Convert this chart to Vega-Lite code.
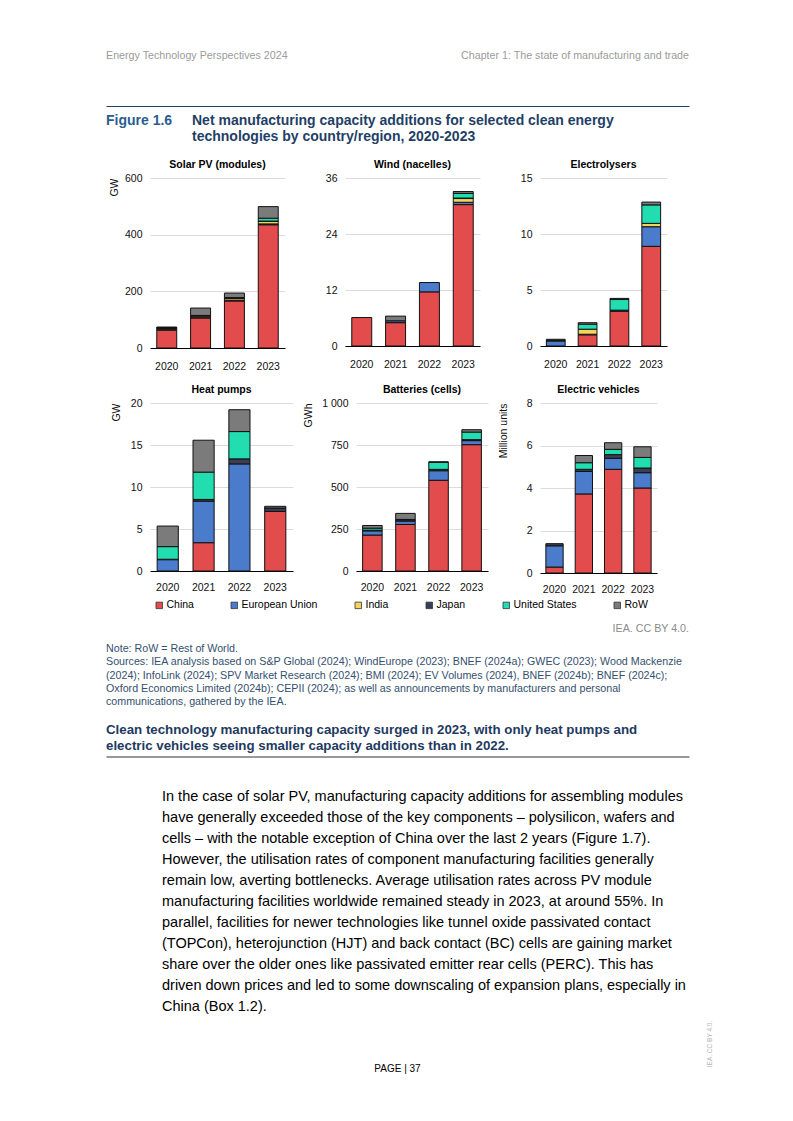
{
  "$schema": "https://vega.github.io/schema/vega-lite/v6.json",
  "padding": {"left": 106, "top": 44, "right": 0, "bottom": 0},
  "background": "#ffffff",
  "spacing": 0,
  "resolve": {"scale": {"color": "independent"}, "legend": {"color": "independent"}},
  "config": {
    "font": "Liberation Sans",
    "view": {"stroke": null},
    "title": {"font": "Liberation Sans", "fontSize": 10.5, "fontWeight": "bold", "color": "#000000", "offset": 3, "anchor": "middle"},
    "axis": {"labelFont": "Liberation Sans", "titleFont": "Liberation Sans", "labelColor": "#111111", "titleColor": "#111111"},
    "axisY": {"domain": false, "ticks": false, "gridColor": "#dcdcdc", "gridWidth": 1, "labelFontSize": 10.5, "labelPadding": 8, "titleFontSize": 10.5, "titleFontWeight": "normal", "titleAnchor": "end"},
    "axisX": {"domainColor": "#000000", "domainWidth": 1, "ticks": false, "labelAngle": 0, "labelPadding": 13, "labelFontSize": 10.5, "grid": false},
    "text": {"font": "Liberation Sans"}
  },
  "datasets": {
    "capacity": [
      {"tech": "solar", "year": "2020", "region": "China", "value": 63},
      {"tech": "solar", "year": "2020", "region": "European Union", "value": 3},
      {"tech": "solar", "year": "2020", "region": "India", "value": 4},
      {"tech": "solar", "year": "2020", "region": "Japan", "value": 1},
      {"tech": "solar", "year": "2020", "region": "United States", "value": 1},
      {"tech": "solar", "year": "2020", "region": "RoW", "value": 2},
      {"tech": "solar", "year": "2021", "region": "China", "value": 106},
      {"tech": "solar", "year": "2021", "region": "European Union", "value": 3},
      {"tech": "solar", "year": "2021", "region": "India", "value": 4},
      {"tech": "solar", "year": "2021", "region": "Japan", "value": 1},
      {"tech": "solar", "year": "2021", "region": "United States", "value": 1},
      {"tech": "solar", "year": "2021", "region": "RoW", "value": 26},
      {"tech": "solar", "year": "2022", "region": "China", "value": 166},
      {"tech": "solar", "year": "2022", "region": "European Union", "value": 3},
      {"tech": "solar", "year": "2022", "region": "India", "value": 6},
      {"tech": "solar", "year": "2022", "region": "Japan", "value": 1},
      {"tech": "solar", "year": "2022", "region": "United States", "value": 2},
      {"tech": "solar", "year": "2022", "region": "RoW", "value": 16},
      {"tech": "solar", "year": "2023", "region": "China", "value": 435},
      {"tech": "solar", "year": "2023", "region": "European Union", "value": 3},
      {"tech": "solar", "year": "2023", "region": "India", "value": 9},
      {"tech": "solar", "year": "2023", "region": "Japan", "value": 1},
      {"tech": "solar", "year": "2023", "region": "United States", "value": 10},
      {"tech": "solar", "year": "2023", "region": "RoW", "value": 41},
      {"tech": "wind", "year": "2020", "region": "China", "value": 6.1},
      {"tech": "wind", "year": "2021", "region": "China", "value": 5.0},
      {"tech": "wind", "year": "2021", "region": "European Union", "value": 0.4},
      {"tech": "wind", "year": "2021", "region": "RoW", "value": 1.0},
      {"tech": "wind", "year": "2022", "region": "China", "value": 11.6},
      {"tech": "wind", "year": "2022", "region": "European Union", "value": 2.0},
      {"tech": "wind", "year": "2023", "region": "China", "value": 30.3},
      {"tech": "wind", "year": "2023", "region": "European Union", "value": 0.5},
      {"tech": "wind", "year": "2023", "region": "India", "value": 0.8},
      {"tech": "wind", "year": "2023", "region": "Japan", "value": 0.1},
      {"tech": "wind", "year": "2023", "region": "United States", "value": 1.0},
      {"tech": "wind", "year": "2023", "region": "RoW", "value": 0.4},
      {"tech": "elec", "year": "2020", "region": "European Union", "value": 0.45},
      {"tech": "elec", "year": "2020", "region": "Japan", "value": 0.05},
      {"tech": "elec", "year": "2020", "region": "RoW", "value": 0.1},
      {"tech": "elec", "year": "2021", "region": "China", "value": 1.0},
      {"tech": "elec", "year": "2021", "region": "European Union", "value": 0.05},
      {"tech": "elec", "year": "2021", "region": "India", "value": 0.45},
      {"tech": "elec", "year": "2021", "region": "United States", "value": 0.45},
      {"tech": "elec", "year": "2021", "region": "RoW", "value": 0.13},
      {"tech": "elec", "year": "2022", "region": "China", "value": 3.1},
      {"tech": "elec", "year": "2022", "region": "European Union", "value": 0.1},
      {"tech": "elec", "year": "2022", "region": "United States", "value": 0.95},
      {"tech": "elec", "year": "2022", "region": "RoW", "value": 0.1},
      {"tech": "elec", "year": "2023", "region": "China", "value": 8.9},
      {"tech": "elec", "year": "2023", "region": "European Union", "value": 1.75},
      {"tech": "elec", "year": "2023", "region": "India", "value": 0.3},
      {"tech": "elec", "year": "2023", "region": "United States", "value": 1.65},
      {"tech": "elec", "year": "2023", "region": "RoW", "value": 0.25},
      {"tech": "hp", "year": "2020", "region": "European Union", "value": 1.35},
      {"tech": "hp", "year": "2020", "region": "Japan", "value": 0.05},
      {"tech": "hp", "year": "2020", "region": "United States", "value": 1.5},
      {"tech": "hp", "year": "2020", "region": "RoW", "value": 2.45},
      {"tech": "hp", "year": "2021", "region": "China", "value": 3.37},
      {"tech": "hp", "year": "2021", "region": "European Union", "value": 4.95},
      {"tech": "hp", "year": "2021", "region": "Japan", "value": 0.2},
      {"tech": "hp", "year": "2021", "region": "United States", "value": 3.25},
      {"tech": "hp", "year": "2021", "region": "RoW", "value": 3.8},
      {"tech": "hp", "year": "2022", "region": "European Union", "value": 12.75},
      {"tech": "hp", "year": "2022", "region": "Japan", "value": 0.6},
      {"tech": "hp", "year": "2022", "region": "United States", "value": 3.25},
      {"tech": "hp", "year": "2022", "region": "RoW", "value": 2.6},
      {"tech": "hp", "year": "2023", "region": "China", "value": 7.1},
      {"tech": "hp", "year": "2023", "region": "Japan", "value": 0.4},
      {"tech": "hp", "year": "2023", "region": "RoW", "value": 0.2},
      {"tech": "batt", "year": "2020", "region": "China", "value": 214},
      {"tech": "batt", "year": "2020", "region": "European Union", "value": 25},
      {"tech": "batt", "year": "2020", "region": "Japan", "value": 4},
      {"tech": "batt", "year": "2020", "region": "United States", "value": 12},
      {"tech": "batt", "year": "2020", "region": "RoW", "value": 16},
      {"tech": "batt", "year": "2021", "region": "China", "value": 277},
      {"tech": "batt", "year": "2021", "region": "European Union", "value": 20},
      {"tech": "batt", "year": "2021", "region": "Japan", "value": 8},
      {"tech": "batt", "year": "2021", "region": "United States", "value": 2},
      {"tech": "batt", "year": "2021", "region": "RoW", "value": 36},
      {"tech": "batt", "year": "2022", "region": "China", "value": 540},
      {"tech": "batt", "year": "2022", "region": "European Union", "value": 57},
      {"tech": "batt", "year": "2022", "region": "Japan", "value": 8},
      {"tech": "batt", "year": "2022", "region": "United States", "value": 42},
      {"tech": "batt", "year": "2022", "region": "RoW", "value": 3},
      {"tech": "batt", "year": "2023", "region": "China", "value": 752},
      {"tech": "batt", "year": "2023", "region": "European Union", "value": 24},
      {"tech": "batt", "year": "2023", "region": "Japan", "value": 6},
      {"tech": "batt", "year": "2023", "region": "United States", "value": 45},
      {"tech": "batt", "year": "2023", "region": "RoW", "value": 14},
      {"tech": "ev", "year": "2020", "region": "China", "value": 0.28},
      {"tech": "ev", "year": "2020", "region": "European Union", "value": 1.0},
      {"tech": "ev", "year": "2020", "region": "Japan", "value": 0.1},
      {"tech": "ev", "year": "2021", "region": "China", "value": 3.72},
      {"tech": "ev", "year": "2021", "region": "European Union", "value": 1.06},
      {"tech": "ev", "year": "2021", "region": "Japan", "value": 0.1},
      {"tech": "ev", "year": "2021", "region": "United States", "value": 0.31},
      {"tech": "ev", "year": "2021", "region": "RoW", "value": 0.34},
      {"tech": "ev", "year": "2022", "region": "China", "value": 4.88},
      {"tech": "ev", "year": "2022", "region": "European Union", "value": 0.52},
      {"tech": "ev", "year": "2022", "region": "Japan", "value": 0.17},
      {"tech": "ev", "year": "2022", "region": "United States", "value": 0.25},
      {"tech": "ev", "year": "2022", "region": "RoW", "value": 0.31},
      {"tech": "ev", "year": "2023", "region": "China", "value": 4.0},
      {"tech": "ev", "year": "2023", "region": "European Union", "value": 0.72},
      {"tech": "ev", "year": "2023", "region": "Japan", "value": 0.22},
      {"tech": "ev", "year": "2023", "region": "United States", "value": 0.5},
      {"tech": "ev", "year": "2023", "region": "RoW", "value": 0.5}
    ]
  },
  "vconcat": [
    {
      "width": 583, "height": 62,
      "data": {"values": [
        {"col": "left", "line": 1, "text": "Energy Technology Perspectives 2024"},
        {"col": "right", "line": 1, "text": "Chapter 1: The state of manufacturing and trade"}
      ]},
      "encoding": {
        "x": {"field": "col", "type": "nominal", "scale": {"type": "point", "domain": ["left", "right"], "range": [-44, 539], "padding": 0}, "axis": {"orient": "bottom", "labels": false, "ticks": false, "grid": false, "title": null, "domain": true, "domainColor": "#23405f", "domainWidth": 1}},
        "y": {"field": "line", "type": "ordinal", "scale": {"type": "point", "range": [11.5, 11.5], "padding": 0}, "axis": null},
        "text": {"field": "text"}
      },
      "layer": [
        {"transform": [{"filter": "datum.col == 'left'"}], "mark": {"type": "text", "align": "left", "fontSize": 10.7, "color": "#9b9b9b"}},
        {"transform": [{"filter": "datum.col == 'right'"}], "mark": {"type": "text", "align": "right", "fontSize": 10.7, "color": "#9b9b9b"}}
      ]
    },
    {
      "width": 583, "height": 53,
      "data": {"values": [
        {"col": "label", "line": 1, "text": "Figure 1.6"},
        {"col": "body", "line": 1, "text": "Net manufacturing capacity additions for selected clean energy"},
        {"col": "body", "line": 2, "text": "technologies by country/region, 2020-2023"}
      ]},
      "encoding": {
        "x": {"field": "col", "type": "nominal", "scale": {"type": "point", "domain": ["label", "body"], "range": [-44, 42], "padding": 0}, "axis": null},
        "y": {"field": "line", "type": "ordinal", "scale": {"type": "point", "range": [14.5, 30.5], "padding": 0}, "axis": null},
        "text": {"field": "text"}
      },
      "layer": [
        {"transform": [{"filter": "datum.col == 'label'"}], "mark": {"type": "text", "align": "left", "fontSize": 14, "fontWeight": "bold", "color": "#2a5d8f"}},
        {"transform": [{"filter": "datum.col == 'body'"}], "mark": {"type": "text", "align": "left", "fontSize": 14, "fontWeight": "bold", "color": "#1f3f66"}}
      ]
    },
    {
      "spacing": 12,
      "vconcat": [
        {
          "spacing": 40,
          "hconcat": [
            {
              "width": 135, "height": 170,
              "title": "Solar PV (modules)",
              "data": {"name": "capacity"},
              "transform": [{"filter": "datum.tech == 'solar'"}, {"calculate": "indexof(['China','European Union','India','Japan','United States','RoW'], datum.region)", "as": "stackOrder"}],
              "mark": {"type": "bar", "stroke": "#111111", "strokeWidth": 1},
              "encoding": {
                "x": {"field": "year", "type": "ordinal", "scale": {"paddingInner": 0.41, "paddingOuter": 0.2}, "axis": {"title": null}},
                "y": {"field": "value", "type": "quantitative", "scale": {"domain": [0, 600]}, "axis": {"values": [0, 200, 400, 600], "title": "GW", "titlePadding": 5}},
                "order": {"field": "stackOrder", "type": "quantitative", "sort": "ascending"},
                "color": {"field": "region", "type": "nominal", "scale": {"domain": ["China", "European Union", "India", "Japan", "United States", "RoW"], "range": ["#E34C4C", "#4B7BCB", "#F4D35E", "#3B3F55", "#21DDB0", "#7B7B7B"]}, "legend": null}
              }
            },
            {
              "width": 135, "height": 168,
              "title": "Wind (nacelles)",
              "data": {"name": "capacity"},
              "transform": [{"filter": "datum.tech == 'wind'"}, {"calculate": "indexof(['China','European Union','India','Japan','United States','RoW'], datum.region)", "as": "stackOrder"}],
              "mark": {"type": "bar", "stroke": "#111111", "strokeWidth": 1},
              "encoding": {
                "x": {"field": "year", "type": "ordinal", "scale": {"paddingInner": 0.41, "paddingOuter": 0.2}, "axis": {"title": null}},
                "y": {"field": "value", "type": "quantitative", "scale": {"domain": [0, 36]}, "axis": {"values": [0, 12, 24, 36], "title": null}},
                "order": {"field": "stackOrder", "type": "quantitative", "sort": "ascending"},
                "color": {"field": "region", "type": "nominal", "scale": {"domain": ["China", "European Union", "India", "Japan", "United States", "RoW"], "range": ["#E34C4C", "#4B7BCB", "#F4D35E", "#3B3F55", "#21DDB0", "#7B7B7B"]}, "legend": null}
              }
            },
            {
              "width": 127, "height": 168,
              "title": "Electrolysers",
              "data": {"name": "capacity"},
              "transform": [{"filter": "datum.tech == 'elec'"}, {"calculate": "indexof(['China','European Union','India','Japan','United States','RoW'], datum.region)", "as": "stackOrder"}],
              "mark": {"type": "bar", "stroke": "#111111", "strokeWidth": 1},
              "encoding": {
                "x": {"field": "year", "type": "ordinal", "scale": {"paddingInner": 0.41, "paddingOuter": 0.2}, "axis": {"title": null}},
                "y": {"field": "value", "type": "quantitative", "scale": {"domain": [0, 15]}, "axis": {"values": [0, 5, 10, 15], "title": null}},
                "order": {"field": "stackOrder", "type": "quantitative", "sort": "ascending"},
                "color": {"field": "region", "type": "nominal", "scale": {"domain": ["China", "European Union", "India", "Japan", "United States", "RoW"], "range": ["#E34C4C", "#4B7BCB", "#F4D35E", "#3B3F55", "#21DDB0", "#7B7B7B"]}, "legend": null}
              }
            }
          ]
        },
        {
          "spacing": 10,
          "hconcat": [
            {
              "width": 143, "height": 168,
              "title": "Heat pumps",
              "data": {"name": "capacity"},
              "transform": [{"filter": "datum.tech == 'hp'"}, {"calculate": "indexof(['China','European Union','India','Japan','United States','RoW'], datum.region)", "as": "stackOrder"}],
              "mark": {"type": "bar", "stroke": "#111111", "strokeWidth": 1},
              "encoding": {
                "x": {"field": "year", "type": "ordinal", "scale": {"paddingInner": 0.41, "paddingOuter": 0.2}, "axis": {"title": null, "labelPadding": 11}},
                "y": {"field": "value", "type": "quantitative", "scale": {"domain": [0, 20]}, "axis": {"values": [0, 5, 10, 15, 20], "title": "GW", "titlePadding": 9}},
                "order": {"field": "stackOrder", "type": "quantitative", "sort": "ascending"},
                "color": {"field": "region", "type": "nominal", "scale": {"domain": ["China", "European Union", "India", "Japan", "United States", "RoW"], "range": ["#E34C4C", "#4B7BCB", "#F4D35E", "#3B3F55", "#21DDB0", "#7B7B7B"]}, "legend": null}
              }
            },
            {
              "width": 132, "height": 168,
              "title": "Batteries (cells)",
              "data": {"name": "capacity"},
              "transform": [{"filter": "datum.tech == 'batt'"}, {"calculate": "indexof(['China','European Union','India','Japan','United States','RoW'], datum.region)", "as": "stackOrder"}],
              "mark": {"type": "bar", "stroke": "#111111", "strokeWidth": 1},
              "encoding": {
                "x": {"field": "year", "type": "ordinal", "scale": {"paddingInner": 0.41, "paddingOuter": 0.2}, "axis": {"title": null, "labelPadding": 11}},
                "y": {"field": "value", "type": "quantitative", "scale": {"domain": [0, 1000]}, "axis": {"values": [0, 250, 500, 750, 1000], "labelExpr": "datum.value == 1000 ? '1 000' : datum.label", "title": "GWh", "titlePadding": 8}},
                "order": {"field": "stackOrder", "type": "quantitative", "sort": "ascending"},
                "color": {"field": "region", "type": "nominal", "scale": {"domain": ["China", "European Union", "India", "Japan", "United States", "RoW"], "range": ["#E34C4C", "#4B7BCB", "#F4D35E", "#3B3F55", "#21DDB0", "#7B7B7B"]}, "legend": null}
              }
            },
            {
              "width": 117, "height": 170,
              "title": "Electric vehicles",
              "data": {"name": "capacity"},
              "transform": [{"filter": "datum.tech == 'ev'"}, {"calculate": "indexof(['China','European Union','India','Japan','United States','RoW'], datum.region)", "as": "stackOrder"}],
              "mark": {"type": "bar", "stroke": "#111111", "strokeWidth": 1},
              "encoding": {
                "x": {"field": "year", "type": "ordinal", "scale": {"paddingInner": 0.41, "paddingOuter": 0.2}, "axis": {"title": null, "labelPadding": 11}},
                "y": {"field": "value", "type": "quantitative", "scale": {"domain": [0, 8]}, "axis": {"values": [0, 2, 4, 6, 8], "title": "Million units", "titlePadding": 18}},
                "order": {"field": "stackOrder", "type": "quantitative", "sort": "ascending"},
                "color": {"field": "region", "type": "nominal", "scale": {"domain": ["China", "European Union", "India", "Japan", "United States", "RoW"], "range": ["#E34C4C", "#4B7BCB", "#F4D35E", "#3B3F55", "#21DDB0", "#7B7B7B"]}, "legend": null}
              }
            }
          ]
        }
      ]
    },
    {
      "width": 583, "height": 21.5,
      "data": {"values": []},
      "mark": {"type": "square", "opacity": 1},
      "encoding": {
        "color": {"field": "region", "type": "nominal", "scale": {"domain": ["China", "European Union", "India", "Japan", "United States", "RoW"], "range": ["#E34C4C", "#4B7BCB", "#F4D35E", "#3B3F55", "#21DDB0", "#7B7B7B"]},
          "legend": {"orient": "none", "legendX": 4, "legendY": 5, "direction": "horizontal", "columns": 6, "title": null, "symbolType": "square", "symbolSize": 42, "symbolStrokeColor": "#333333", "symbolStrokeWidth": 0.8, "symbolOpacity": 1, "labelFontSize": 10.5, "labelColor": "#000000", "labelFont": "Liberation Sans", "columnPadding": 35, "labelOffset": 2, "padding": 0}}
      }
    },
    {
      "width": 583, "height": 25,
      "data": {"values": [{"col": "right", "line": 1, "text": "IEA. CC BY 4.0."}]},
      "mark": {"type": "text", "align": "right", "fontSize": 10.7, "color": "#8a8a8a"},
      "encoding": {
        "x": {"field": "col", "type": "nominal", "scale": {"type": "point", "domain": ["right"], "range": [-44, 539], "align": 1}, "axis": null},
        "y": {"field": "line", "type": "ordinal", "scale": {"type": "point", "range": [11.5, 11.5], "padding": 0}, "axis": null},
        "text": {"field": "text"}
      }
    },
    {
      "width": 583, "height": 66,
      "data": {"values": [
        {"col": "body", "line": 1, "text": "Note: RoW = Rest of World."},
        {"col": "body", "line": 2, "text": "Sources: IEA analysis based on S&P Global (2024); WindEurope (2023); BNEF (2024a); GWEC (2023); Wood Mackenzie"},
        {"col": "body", "line": 3, "text": "(2024); InfoLink (2024); SPV Market Research (2024); BMI (2024); EV Volumes (2024), BNEF (2024b); BNEF (2024c);"},
        {"col": "body", "line": 4, "text": "Oxford Economics Limited (2024b); CEPII (2024); as well as announcements by manufacturers and personal"},
        {"col": "body", "line": 5, "text": "communications, gathered by the IEA."}
      ]},
      "mark": {"type": "text", "align": "left", "fontSize": 10.7, "color": "#34506e"},
      "encoding": {
        "x": {"field": "col", "type": "nominal", "scale": {"type": "point", "domain": ["body"], "range": [-44, 539], "align": 0}, "axis": null},
        "y": {"field": "line", "type": "ordinal", "scale": {"type": "point", "range": [7, 60], "padding": 0}, "axis": null},
        "text": {"field": "text"}
      }
    },
    {
      "width": 583, "height": 48.5,
      "data": {"values": [
        {"col": "body", "line": 1, "text": "Clean technology manufacturing capacity surged in 2023, with only heat pumps and"},
        {"col": "body", "line": 2, "text": "electric vehicles seeing smaller capacity additions than in 2022."}
      ]},
      "mark": {"type": "text", "align": "left", "fontSize": 13.3, "fontWeight": "bold", "color": "#1f3a5f"},
      "encoding": {
        "x": {"field": "col", "type": "nominal", "scale": {"type": "point", "domain": ["body"], "range": [-44, 539], "align": 0}, "axis": {"orient": "bottom", "labels": false, "ticks": false, "grid": false, "title": null, "domain": true, "domainColor": "#333333", "domainWidth": 1}},
        "y": {"field": "line", "type": "ordinal", "scale": {"type": "point", "range": [22, 38], "padding": 0}, "axis": null},
        "text": {"field": "text"}
      }
    },
    {
      "width": 583, "height": 263,
      "data": {"values": [
        {"col": "body", "line": 1, "text": "In the case of solar PV, manufacturing capacity additions for assembling modules"},
        {"col": "body", "line": 2, "text": "have generally exceeded those of the key components – polysilicon, wafers and"},
        {"col": "body", "line": 3, "text": "cells – with the notable exception of China over the last 2 years (Figure 1.7)."},
        {"col": "body", "line": 4, "text": "However, the utilisation rates of component manufacturing facilities generally"},
        {"col": "body", "line": 5, "text": "remain low, averting bottlenecks. Average utilisation rates across PV module"},
        {"col": "body", "line": 6, "text": "manufacturing facilities worldwide remained steady in 2023, at around 55%. In"},
        {"col": "body", "line": 7, "text": "parallel, facilities for newer technologies like tunnel oxide passivated contact"},
        {"col": "body", "line": 8, "text": "(TOPCon), heterojunction (HJT) and back contact (BC) cells are gaining market"},
        {"col": "body", "line": 9, "text": "share over the older ones like passivated emitter rear cells (PERC). This has"},
        {"col": "body", "line": 10, "text": "driven down prices and led to some downscaling of expansion plans, especially in"},
        {"col": "body", "line": 11, "text": "China (Box 1.2)."}
      ]},
      "mark": {"type": "text", "align": "left", "fontSize": 14.5, "color": "#000000"},
      "encoding": {
        "x": {"field": "col", "type": "nominal", "scale": {"type": "point", "domain": ["body"], "range": [12, 539], "align": 0}, "axis": null},
        "y": {"field": "line", "type": "ordinal", "scale": {"type": "point", "range": [39.5, 249.5], "padding": 0}, "axis": null},
        "text": {"field": "text"}
      }
    },
    {
      "width": 583, "height": 94,
      "layer": [
        {
          "data": {"values": [{"col": "center", "line": 1, "text": "PAGE | 37"}]},
          "mark": {"type": "text", "align": "center", "fontSize": 10, "color": "#000000"},
          "encoding": {
            "x": {"field": "col", "type": "nominal", "scale": {"type": "point", "domain": ["center"], "range": [-44, 539]}, "axis": null},
            "y": {"field": "line", "type": "ordinal", "scale": {"type": "point", "range": [49, 49], "padding": 0}, "axis": null},
            "text": {"field": "text"}
          }
        },
        {
          "data": {"values": [{"col": "side", "line": 1, "text": "IEA. CC BY 4.0."}]},
          "mark": {"type": "text", "align": "center", "angle": 270, "fontSize": 6.5, "color": "#b5b5b5"},
          "encoding": {
            "x": {"field": "col", "type": "nominal", "scale": {"type": "point", "domain": ["side"], "range": [560, 560]}, "axis": null},
            "y": {"field": "line", "type": "ordinal", "scale": {"type": "point", "range": [24, 24], "padding": 0}, "axis": null},
            "text": {"field": "text"}
          }
        }
      ],
      "resolve": {"scale": {"x": "independent", "y": "independent"}}
    }
  ]
}
